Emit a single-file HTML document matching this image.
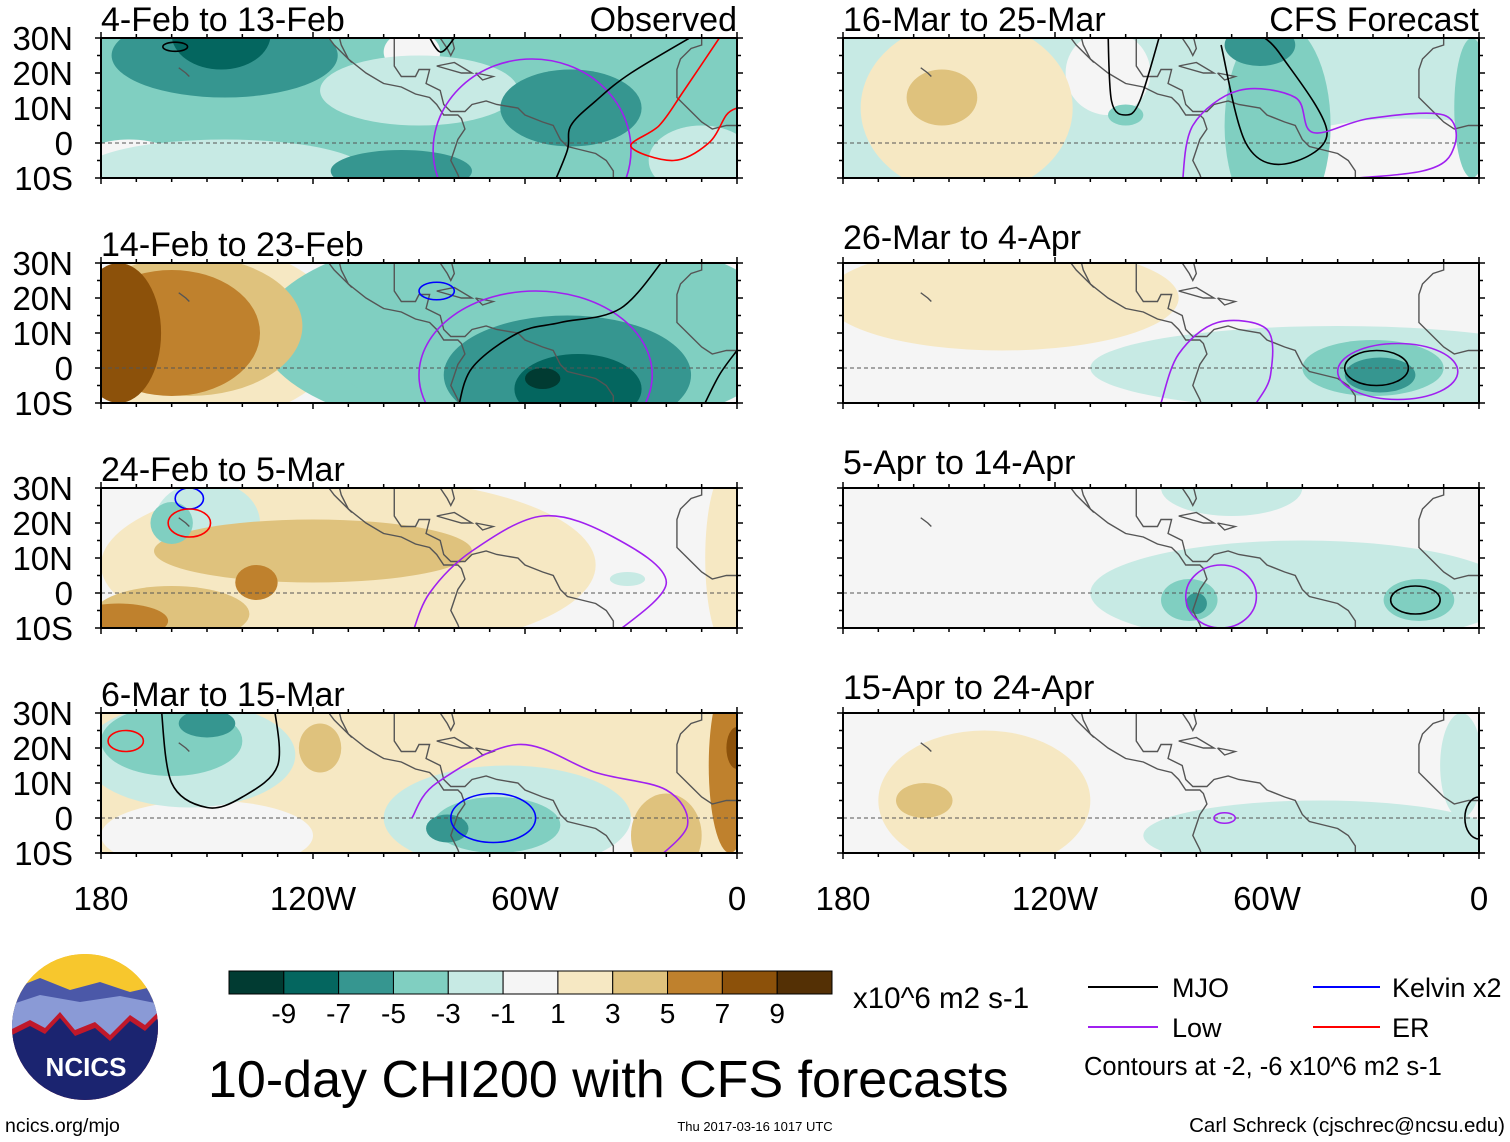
<!DOCTYPE html>
<html><head><meta charset="utf-8"><style>
html,body{margin:0;padding:0;background:#fff;}
svg{display:block;font-family:"Liberation Sans",sans-serif;}
</style></head><body>
<svg id="c" width="1510" height="1142" viewBox="0 0 1510 1142" xmlns="http://www.w3.org/2000/svg">
<defs id="defs"></defs>
<g id="panels"></g>
<g id="cbar"></g>
<text x="853" y="1008" font-size="29.5">x10^6 m2 s-1</text>
<text x="208" y="1097" font-size="52">10-day CHI200 with CFS forecasts</text>
<g>
<line x1="1088" y1="987" x2="1158" y2="987" stroke="#000" stroke-width="2"/>
<text x="1172" y="997" font-size="27">MJO</text>
<line x1="1088" y1="1027" x2="1158" y2="1027" stroke="#a020f0" stroke-width="2"/>
<text x="1172" y="1037" font-size="27">Low</text>
<line x1="1313" y1="987" x2="1380" y2="987" stroke="#0000ff" stroke-width="2"/>
<text x="1392" y="997" font-size="27">Kelvin x2</text>
<line x1="1313" y1="1027" x2="1380" y2="1027" stroke="#ff0000" stroke-width="2"/>
<text x="1392" y="1037" font-size="27">ER</text>
<text x="1084" y="1075" font-size="25.5">Contours at -2, -6 x10^6 m2 s-1</text>
</g>
<g>
<clipPath id="logoclip"><circle cx="85" cy="1027" r="73"/></clipPath>
<g clip-path="url(#logoclip)">
<rect x="10" y="952" width="150" height="150" fill="#f2b21a"/>
<rect x="10" y="952" width="150" height="40" fill="#f7c72d"/>
<path d="M10 990 L40 978 L70 990 L100 982 L130 992 L160 985 L160 1102 L10 1102Z" fill="#4b58a8"/>
<path d="M10 1005 L40 995 L80 1002 L120 996 L160 1004 L160 1102 L10 1102Z" fill="#8a9ad6"/>
<path d="M10 1030 L30 1020 L45 1028 L60 1012 L75 1030 L95 1022 L110 1035 L130 1015 L145 1025 L160 1010 L160 1102 L10 1102Z" fill="#c0182a"/>
<path d="M10 1036 L30 1026 L45 1034 L60 1018 L75 1036 L95 1028 L110 1041 L130 1021 L145 1031 L160 1016 L160 1102 L10 1102Z" fill="#1b2470"/>
</g>
<text x="86" y="1076" font-size="26" font-weight="bold" fill="#fff" text-anchor="middle">NCICS</text>
</g>
<text x="5" y="1132" font-size="19.5">ncics.org/mjo</text>
<text x="755" y="1131" font-size="13" text-anchor="middle">Thu 2017-03-16 1017 UTC</text>
<text x="1505" y="1132" font-size="20.5" text-anchor="end">Carl Schreck (cjschrec@ncsu.edu)</text>
</svg>
<script>
// colour levels (bin centres) and colours
const levelValues = [-10,-8,-6,-4,-2,0,2,4,6,8,10];
const levelColors = ["#013b32","#04665f","#369690","#80cfc1","#c7eae4","#f5f5f5","#f6e8c3","#dfc27d","#bf812d","#8c510a","#543005"];
const cbarTicks = ["-9","-7","-5","-3","-1","1","3","5","7","9"];
const panelTitles = ["4-Feb to 13-Feb","14-Feb to 23-Feb","24-Feb to 5-Mar","6-Mar to 15-Mar","16-Mar to 25-Mar","26-Mar to 4-Apr","5-Apr to 14-Apr","15-Apr to 24-Apr"];
const latTicks = ["30N","20N","10N","0","10S"];
const lonTicks = ["180","120W","60W","0"];
const panelBg = [-4,0,0,2,-2,0,0,0];
// shaded anomaly blobs per panel: [lonW, lat, rLon, rLat, level]
const blobs0 = [[145,-8,40,9,-2],[172,-5,14,6,0],[90,15,28,10,-2],[92,26,8,6,0],[145,25,32,12,-6],[146,31,14,10,-8],[47,10,20,11,-6],[95,-8,20,6,-6],[10,-5,15,10,-2]];
const blobs1 = [[60,10,75,30,-4],[150,10,38,25,2],[155,12,32,20,4],[160,10,25,18,6],[175,10,12,20,8],[55,5,60,22,-4],[48,-2,35,17,-6],[45,-6,18,10,-8],[55,-3,5,3,-10]];
const blobs2 = [[110,8,70,25,2],[120,12,45,9,4],[160,-6,22,8,4],[175,-8,14,5,6],[136,3,6,5,6],[150,20,15,12,-2],[160,20,6,6,-4],[31,4,5,2,-2],[3,10,6,25,2]];
const blobs3 = [[150,-5,30,10,0],[155,18,30,15,-2],[160,22,20,10,-4],[150,27,8,4,-6],[118,20,6,7,4],[65,0,35,15,-2],[40,-5,12,10,0],[68,-2,18,8,-4],[82,-3,6,4,-6],[20,-5,10,12,4],[2,15,6,25,6],[0,20,3,6,8]];
const blobs4 = [[145,10,30,25,2],[152,13,10,8,4],[105,20,12,12,0],[20,-5,40,12,0],[100,8,5,3,-4],[57,5,15,30,-4],[62,28,10,6,-6],[2,10,5,20,-4]];
const blobs5 = [[135,20,50,15,2],[40,0,70,12,-2],[30,0,20,8,-4],[28,-2,10,5,-6]];
const blobs6 = [[50,0,60,15,-2],[70,30,20,8,-2],[82,-2,8,6,-4],[80,-3,3,3,-6],[17,-2,10,6,-4]];
const blobs7 = [[140,5,30,20,2],[157,5,8,5,4],[45,-5,50,10,-2],[5,15,6,15,-2]];
const allBlobs = [blobs0,blobs1,blobs2,blobs3,blobs4,blobs5,blobs6,blobs7];
// contour ellipses: [lonW, lat, rLon, rLat, type]
const ellipses = [
 [[159,27.5,3.5,1.3,"mjo"],[58,-2,28,26,"low"]],
 [[85,22,5,2.5,"kelvin"],[57,-2,33,24,"low"]],
 [[155,27,4,3,"kelvin"],[155,20,6,4,"er"]],
 [[173,22,5,3,"er"],[69,0,12,7,"kelvin"]],
 [],
 [[29,0,9,5,"mjo"],[23,-1,17,8,"low"]],
 [[18,-2,7,4,"mjo"],[73,-1,10,9,"low"]],
 [[72,0,3,1.5,"low"],[0,0,4,6,"mjo"]]
];
// contour polylines: [type, [[lonW,lat],...]]
const lines = [
 [["mjo",[[52,-12],[48,-2],[47,5],[40,12],[30,20],[10,32]]],["er",[[5,30],[15,15],[22,5],[30,-1],[18,-5],[8,0],[3,8],[0,10]]],["mjo",[[88,32],[84,26],[80,30]]]],
 [["mjo",[[79,-12],[75,0],[62,10],[50,13],[33,17],[20,32]]],["mjo",[[10,-12],[5,-2],[0,5]]]],
 [["low",[[92,-12],[87,0],[75,12],[55,22],[35,16],[20,3],[35,-12]]]],
 [["mjo",[[163,32],[160,10],[150,3],[140,6],[130,15],[131,32]]],["low",[[92,0],[85,10],[62,21],[40,13],[20,8],[14,-2],[23,-12]]]],
 [["mjo",[[105,32],[104,12],[100,8],[96,12],[90,32]]],["mjo",[[73,28],[66,0],[55,-6],[43,3],[56,25],[62,31]]],["low",[[84,-12],[81,5],[68,15],[52,13],[47,3],[31,7],[10,8],[7,-1],[16,-8],[50,-11]]]],
 [["low",[[90,-10],[85,4],[74,13],[60,11],[59,-2],[63,-10]]]],
 [],
 []
];
const coast = [
 [[117,32],[114,28],[110,24],[105,20],[100,17],[95,16],[91,14],[87,13],[85,11],[83,8],[79,8],[78,7],[77,4],[79,1],[80,-2],[81,-5],[79,-9],[78,-12]],
 [[97,32],[97,26],[97,22],[95,19],[91,19],[90,21],[87,21],[88,17],[84,15],[83,11],[81,9],[77,9],[75,11],[71,12],[68,11],[62,10],[60,8],[55,6],[52,5],[50,1],[48,-1],[44,-2],[40,-3],[37,-5],[35,-8],[35,-12]],
 [[97,30],[90,30],[84,30],[82,27],[81,25],[80,27],[81,31]],
 [[85,22],[80,23],[75,20],[78,20],[85,22]],
 [[74,20],[69,19],[72,18],[74,20]],
 [[113,32],[112,28],[110,24],[109,23]],
 [[10,32],[10,28],[13,27],[16,24],[17,21],[17,15],[17,13],[15,11],[13,9],[10,6],[7,4],[3,5],[0,5]],
 [[158,21.5],[156,20],[155,19]]
];
const NS="http://www.w3.org/2000/svg";
const W=636,H=140,PX=W/180,PY=H/40;
const colX=[101,843], rowY=[38,263,488,713];
const typeColor={mjo:"#000",low:"#a020f0",kelvin:"#0000ff",er:"#ff0000"};
function mk(tag,attrs,parent){const e=document.createElementNS(NS,tag);for(const k in attrs)e.setAttribute(k,attrs[k]);parent.appendChild(e);return e;}
function colorOf(v){return levelColors[levelValues.indexOf(v)];}
function smooth(pts){
 if(pts.length<3)return 'M'+pts.map(p=>p.join(',')).join('L');
 let d='M'+pts[0][0]+','+pts[0][1];
 for(let i=0;i<pts.length-1;i++){
  const p0=pts[Math.max(0,i-1)],p1=pts[i],p2=pts[i+1],p3=pts[Math.min(pts.length-1,i+2)];
  const c1=[p1[0]+(p2[0]-p0[0])/6,p1[1]+(p2[1]-p0[1])/6],c2=[p2[0]-(p3[0]-p1[0])/6,p2[1]-(p3[1]-p1[1])/6];
  d+=`C${c1[0]},${c1[1]} ${c2[0]},${c2[1]} ${p2[0]},${p2[1]}`;
 }
 return d;
}
const root=document.getElementById('panels');
const defs=document.getElementById('defs');
for(let p=0;p<8;p++){
 const x0=colX[p<4?0:1], y0=rowY[p%4];
 const sx=lon=>x0+(180-lon)*PX, sy=lat=>y0+(30-lat)*PY;
 const g=mk('g',{},root);
 
 
 const cp=mk('clipPath',{id:'cp'+p},defs);
 mk('rect',{x:x0,y:y0,width:W,height:H},cp);
 const inner=mk('g',{'clip-path':'url(#cp'+p+')'},g);
 const bg=mk('rect',{x:x0,y:y0,width:W,height:H,fill:colorOf(panelBg[p])},inner);
 
 
 const bl=allBlobs[p].slice().sort((a,b)=>Math.abs(a[4])-Math.abs(b[4]));
 for(const b of bl){
  const e=mk('ellipse',{cx:sx(b[0]),cy:sy(b[1]),rx:b[2]*PX,ry:b[3]*PY,fill:colorOf(b[4])},inner);
  
  
 }
 for(const c of coast){
  const l=mk('polyline',{points:c.map(q=>sx(q[0])+','+sy(q[1])).join(' '),fill:'none',stroke:'#555','stroke-width':1.4},inner);
  
  
 }
 const eq=mk('line',{x1:x0,x2:x0+W,y1:sy(0),y2:sy(0),stroke:'#555','stroke-dasharray':'4,3','stroke-width':1},inner);
 
 
 for(const c of ellipses[p]){
  const e=mk('ellipse',{cx:sx(c[0]),cy:sy(c[1]),rx:c[2]*PX,ry:c[3]*PY,fill:'none',stroke:typeColor[c[4]],'stroke-width':1.6},inner);
  
  
 }
 for(const c of lines[p]){
  const e=mk('path',{d:smooth(c[1].map(q=>[sx(q[0]),sy(q[1])])),fill:'none',stroke:typeColor[c[0]],'stroke-width':1.6,'stroke-linejoin':'round'},inner);
  
  
 }
 const fr=mk('rect',{x:x0,y:y0,width:W,height:H,fill:'none',stroke:'#000','stroke-width':2},g);
 
 
 let d='';
 for(let lon=180;lon>=0;lon-=10){const x=sx(lon),L=(lon%60===0)?6:4;d+=`M${x} ${y0}v${-L}M${x} ${y0+H}v${L}`;}
 for(let lat=30;lat>=-10;lat-=5){const y=sy(lat),L=(lat%10===0)?6:4;d+=`M${x0} ${y}h${-L}M${x0+W} ${y}h${L}`;}
 mk('path',{d:d,stroke:'#000','stroke-width':1.5,fill:'none'},g);
 const ty=(p%4===0)?31:(p<4?y0-7:y0-14);
 const t=mk('text',{x:x0,y:ty,'font-size':34},g);
 t.textContent=panelTitles[p];
 
 
 if(p<4){
  latTicks.forEach((s,i)=>{
   const tt=mk('text',{x:73,y:y0+i*35+12,'font-size':33,'text-anchor':'end'},g);
   tt.textContent=s;
   
   
  });
 }
}
const tl=mk('text',{x:737,y:31,'font-size':34,'text-anchor':'end'},root);
tl.textContent='Observed';


const tr=mk('text',{x:1479,y:31,'font-size':34,'text-anchor':'end'},root);
tr.textContent='CFS Forecast';


for(const x0 of colX){
 lonTicks.forEach((s,i)=>{
  const t=mk('text',{x:x0+i*212,y:910,'font-size':33,'text-anchor':'middle'},root);
  t.textContent=s;
  
  
 });
}
const cb=document.getElementById('cbar');
const bw=603/levelColors.length;
levelColors.forEach((c,i)=>{
 const r=mk('rect',{x:229+i*bw,y:971,width:bw,height:23,fill:c,stroke:'#000','stroke-width':1},cb);
 
 
});
cbarTicks.forEach((s,i)=>{
 const t=mk('text',{x:229+(i+1)*bw,y:1023,'font-size':28,'text-anchor':'middle'},cb);
 t.textContent=s;
 
 
});
</script>
</body></html>
